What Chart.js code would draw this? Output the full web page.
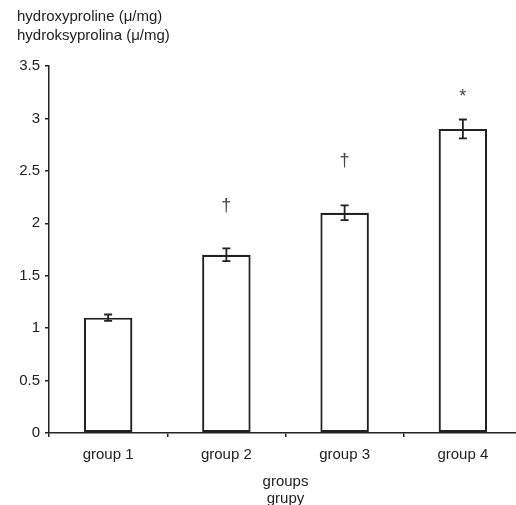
<!DOCTYPE html>
<html>
<head>
<meta charset="utf-8">
<script src="https://cdn.jsdelivr.net/npm/chart.js@4.4.1/dist/chart.umd.min.js"></script>
<style>
  html, body { margin: 0; padding: 0; background: #fff; overflow: hidden; }
  #wrap { width: 516px; height: 505px; overflow: hidden; }
</style>
</head>
<body>
<div id="wrap"><canvas id="c" width="522" height="507"></canvas></div>
<script>
const groups = ['group 1', 'group 2', 'group 3', 'group 4'];
const hyp = [1.1, 1.7, 2.1, 2.9];
const hypErr = [0.03, 0.06, 0.07, 0.09];
const marks = ['', '\u2020', '\u2020', '*'];
const markAt = [null, 2.16, 2.59, 3.2];
const yTitle = ['hydroxyproline (\u03bc/mg)', 'hydroksyprolina (\u03bc/mg)'];
const xTitle = ['groups', 'grupy'];

const ink = '#222';
const font = 'Liberation Sans, Arial, sans-serif';

// error bars + significance marks
const extras = {
  id: 'extras',
  afterDatasetsDraw(chart) {
    const ctx = chart.ctx;
    const y = chart.scales.y;
    const meta = chart.getDatasetMeta(0);
    ctx.save();
    ctx.strokeStyle = ink;
    ctx.lineWidth = 1.8;
    meta.data.forEach((bar, i) => {
      const top = y.getPixelForValue(hyp[i] + hypErr[i]);
      const bot = y.getPixelForValue(hyp[i] - hypErr[i]);
      ctx.beginPath();
      ctx.moveTo(bar.x, top); ctx.lineTo(bar.x, bot);
      ctx.moveTo(bar.x - 4, top); ctx.lineTo(bar.x + 4, top);
      ctx.moveTo(bar.x - 4, bot); ctx.lineTo(bar.x + 4, bot);
      ctx.stroke();
      if (marks[i]) {
        ctx.fillStyle = '#444';
        ctx.font = '18px ' + font;
        ctx.textAlign = 'center';
        ctx.textBaseline = 'middle';
        ctx.fillText(marks[i], bar.x, y.getPixelForValue(markAt[i]));
      }
    });
    // y axis title, top left
    ctx.fillStyle = ink;
    ctx.font = '15px ' + font;
    ctx.textAlign = 'left';
    ctx.textBaseline = 'alphabetic';
    ctx.fillText(yTitle[0], 17, 21);
    ctx.fillText(yTitle[1], 17, 40);
    ctx.restore();
  }
};

Chart.defaults.font.family = font;
Chart.defaults.font.size = 15;
Chart.defaults.color = ink;

new Chart(document.getElementById('c'), {
  type: 'bar',
  data: {
    labels: groups,
    datasets: [{
      data: hyp,
      backgroundColor: '#fff',
      borderColor: ink,
      borderWidth: 2.2,
      borderSkipped: false,
      barPercentage: 0.41,
      categoryPercentage: 1
    }]
  },
  options: {
    responsive: false,
    animation: false,
    layout: {padding: {top: 66, left: 0, right: 0, bottom: 0}},
    plugins: {legend: {display: false}, tooltip: {enabled: false}},
    scales: {
      x: {
        afterFit: s => { s.height = 74; },
        border: {color: ink, width: 1.5},
        grid: {drawOnChartArea: false, color: ink, tickLength: 4, lineWidth: 1.5},
        ticks: {padding: 9, color: ink},
        title: {display: true, text: xTitle, color: ink, font: {size: 15, lineHeight: 1.1}, padding: {top: 0, bottom: 0}}
      },
      y: {
        min: 0,
        max: 3.5,
        afterFit: s => { s.width = 49; },
        border: {color: ink, width: 1.5},
        grid: {drawOnChartArea: false, color: ink, tickLength: 4, lineWidth: 1.5},
        ticks: {stepSize: 0.5, padding: 5, color: ink, callback: v => String(v)}
      }
    }
  },
  plugins: [extras]
});
</script>
</body>
</html>
